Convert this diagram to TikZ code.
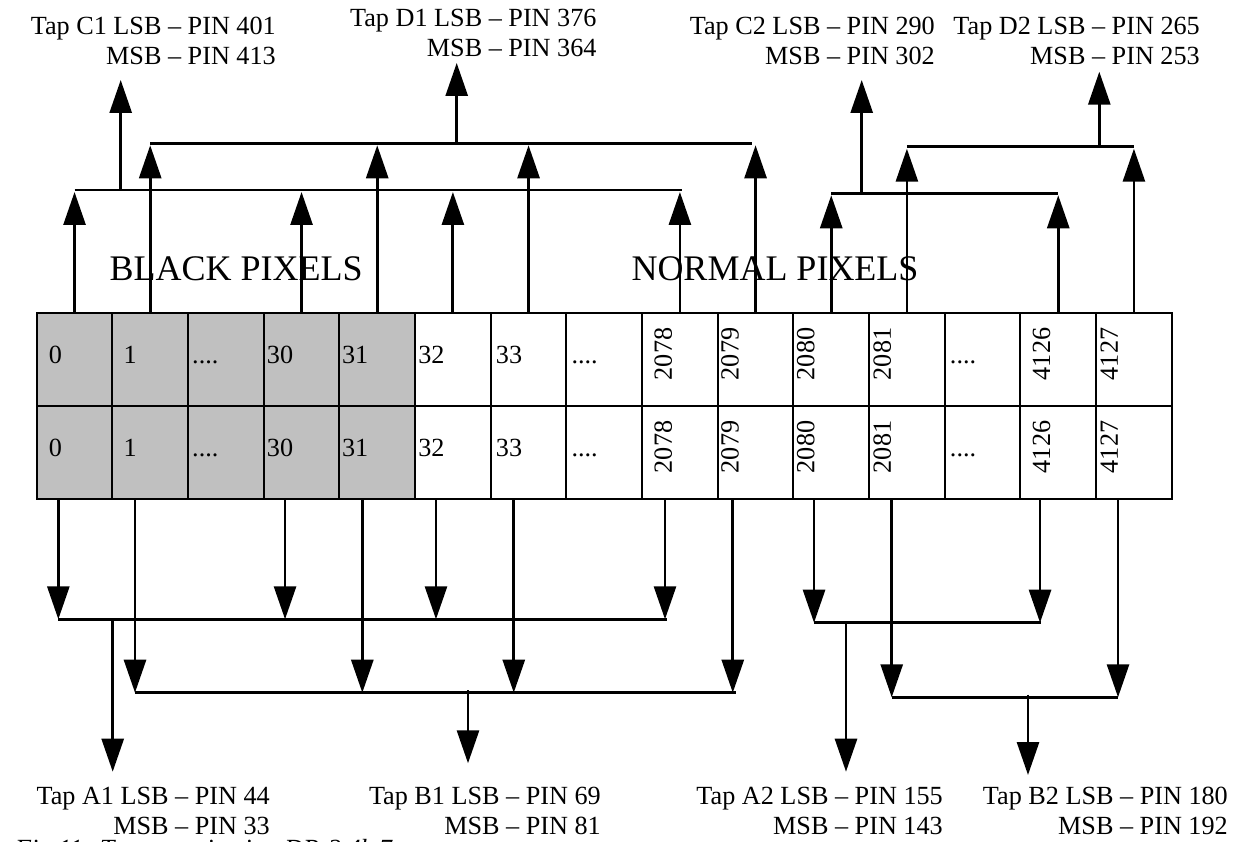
\documentclass[tikz,border=0pt]{standalone}
\usepackage{fontspec}
\setmainfont{Liberation Serif}
\usetikzlibrary{arrows.meta,calc}
\definecolor{cellgray}{RGB}{192,192,192}
\newcommand\fourdots{....}
\newcommand\twolines[2]{\begin{tabular}[t]{@{}r@{}}#1\\#2\end{tabular}}
\begin{document}
\begin{tikzpicture}[x=1pt,y=-1pt,
  cellbox/.style={draw=black, line width=2pt, minimum width=75.67pt,
    minimum height=93pt, inner sep=0pt, outer sep=0pt},
  num/.style={inner sep=0pt, anchor=base west, font=\fontsize{26.2}{30}\selectfont},
  vnum/.style={num, rotate=90},
  tap/.style={inner sep=0pt, anchor=base east, font=\fontsize{26.2}{30}\selectfont},
  zone/.style={inner sep=0pt, anchor=base west, font=\fontsize{36}{40}\selectfont},
  bus/.style={line width=2.8pt},
  feed/.style={line width=2.8pt, -{Triangle[length=33pt,width=22pt]}},
]
\useasboundingbox (0,0) rectangle (1236,842);

% pixel register: two rows of 15 cells, the first five are black pixels
\foreach \k in {0,...,14} {
  \pgfmathsetmacro\cx{36.7+75.67*(\k+0.5)}
  \ifnum\k<5 \def\cfill{cellgray}\else\def\cfill{white}\fi
  \node[cellbox, fill=\cfill] (u\k) at (\cx,359.8) {};
  \node[cellbox, fill=\cfill] (l\k) at (\cx,452.8) {};
}

% horizontal cell numbers
\foreach \k/\t/\dx in {0/0/12, 1/1/11, 2/\fourdots/4, 3/30/3, 4/31/2.5,
                       5/32/3, 6/33/5, 7/\fourdots/5, 12/\fourdots/5} {
  \node[num] (ut\k) at ($(u\k.north west)+(\dx,50)$) {\t};
  \node[num] (lt\k) at ($(l\k.north west)+(\dx,50.4)$) {\t};
}
% vertical cell numbers
\foreach \k/\t/\dx in {8/2078/29.9, 9/2079/20.9, 10/2080/21, 11/2081/21.8,
                       13/4126/29.7, 14/4127/21.8} {
  \node[vnum] (ut\k) at ($(u\k.north west)+(\dx,67)$) {\t};
  \node[vnum] (lt\k) at ($(l\k.north west)+(\dx,67)$) {\t};
}

% zone titles
\node[zone] (blackzone) at (109.5,280) {BLACK PIXELS};
\node[zone] (normalzone) at (631.3,280) {NORMAL PIXELS};

% tap labels
\node[tap] (tapC1) at (276,35)   {\twolines{Tap C1 LSB – PIN 401}{MSB – PIN 413}};
\node[tap] (tapD1) at (596.7,26.7) {\twolines{Tap D1 LSB – PIN 376}{MSB – PIN 364}};
\node[tap] (tapC2) at (935,35)   {\twolines{Tap C2 LSB – PIN 290}{MSB – PIN 302}};
\node[tap] (tapD2) at (1200,35)  {\twolines{Tap D2 LSB – PIN 265}{MSB – PIN 253}};
\node[tap] (tapA1) at (270,804)  {\twolines{Tap A1 LSB – PIN 44}{MSB – PIN 33}};
\node[tap] (tapB1) at (601,804)  {\twolines{Tap B1 LSB – PIN 69}{MSB – PIN 81}};
\node[tap] (tapA2) at (943,804)  {\twolines{Tap A2 LSB – PIN 155}{MSB – PIN 143}};
\node[tap] (tapB2) at (1228,804) {\twolines{Tap B2 LSB – PIN 180}{MSB – PIN 192}};

% caption
\node[inner sep=0pt, anchor=base west, font=\itshape\fontsize{26.2}{30}\selectfont]
  (caption) at (15,857) {Fig.11: Tap organization DR-2 4k 7};

% ---- upper taps ----
\coordinate (busC1w) at (74.5,190);    \coordinate (busC1e) at (681.5,190);
\coordinate (busC1o) at (120.7,190);   \coordinate (tipC1) at (120.7,80);
\coordinate (busD1w) at (150.2,143.3); \coordinate (busD1e) at (751.7,143.3);
\coordinate (busD1o) at (456.7,143.3); \coordinate (tipD1) at (456.7,63);
\coordinate (busC2w) at (831.2,193.3); \coordinate (busC2e) at (1058.2,193.3);
\coordinate (busC2o) at (861.7,193.3); \coordinate (tipC2) at (861.7,80);
\coordinate (busD2w) at (906.9,146.7); \coordinate (busD2e) at (1133.9,146.7);
\coordinate (busD2o) at (1099.3,146.7);\coordinate (tipD2) at (1099.3,71.7);

\foreach \b in {C1,D1,C2,D2} {
  \draw[bus] (bus\b w) -- (bus\b e);
  \draw[feed] (bus\b o) -- (tip\b);
}
\foreach \k in {0,3,5,8}  \draw[feed] (u\k.north) -- ($(u\k.north |- busC1w)+(0,2)$);
\foreach \k in {1,4,6,9}  \draw[feed] (u\k.north) -- ($(u\k.north |- busD1w)+(0,2)$);
\foreach \k in {10,13}    \draw[feed] (u\k.north) -- ($(u\k.north |- busC2w)+(0,2)$);
\foreach \k in {11,14}    \draw[feed] (u\k.north) -- ($(u\k.north |- busD2w)+(0,2)$);

% ---- lower taps ----
\coordinate (busA1w) at (58.3,619.3);  \coordinate (busA1e) at (666.5,619.3);
\coordinate (busA1o) at (112.7,619.3); \coordinate (tipA1) at (112.7,771.7);
\coordinate (busB1w) at (135,692.7);   \coordinate (busB1e) at (736,692.7);
\coordinate (busB1o) at (468,690);     \coordinate (tipB1) at (468,763.3);
\coordinate (busA2w) at (814,622.7);   \coordinate (busA2e) at (1041,622.7);
\coordinate (busA2o) at (846,622.7);   \coordinate (tipA2) at (846,771.7);
\coordinate (busB2w) at (891.7,697.3); \coordinate (busB2e) at (1118,697.3);
\coordinate (busB2o) at (1028,694.5);  \coordinate (tipB2) at (1028,775);

\foreach \b in {A1,B1,A2,B2} {
  \draw[bus] (bus\b w) -- (bus\b e);
  \draw[feed] (bus\b o) -- (tip\b);
}
\foreach \k/\dx in {0/-16.2, 3/-16.5, 5/-16.9, 8/-14.9} {
  \coordinate (dn\k) at ($(l\k.south)+(\dx,0)$);
  \draw[feed] (dn\k) -- (dn\k |- busA1w);
}
\foreach \k/\dx in {1/-15.2, 4/-14.9, 6/-14.8, 9/-22.8} {
  \coordinate (dn\k) at ($(l\k.south)+(\dx,0)$);
  \draw[feed] (dn\k) -- (dn\k |- busB1w);
}
\foreach \k/\dx in {10/-17.2, 13/-18.2} {
  \coordinate (dn\k) at ($(l\k.south)+(\dx,0)$);
  \draw[feed] (dn\k) -- (dn\k |- busA2w);
}
\foreach \k/\dx in {11/-15.2, 14/-15.9} {
  \coordinate (dn\k) at ($(l\k.south)+(\dx,0)$);
  \draw[feed] (dn\k) -- (dn\k |- busB2w);
}
\end{tikzpicture}
\end{document}
